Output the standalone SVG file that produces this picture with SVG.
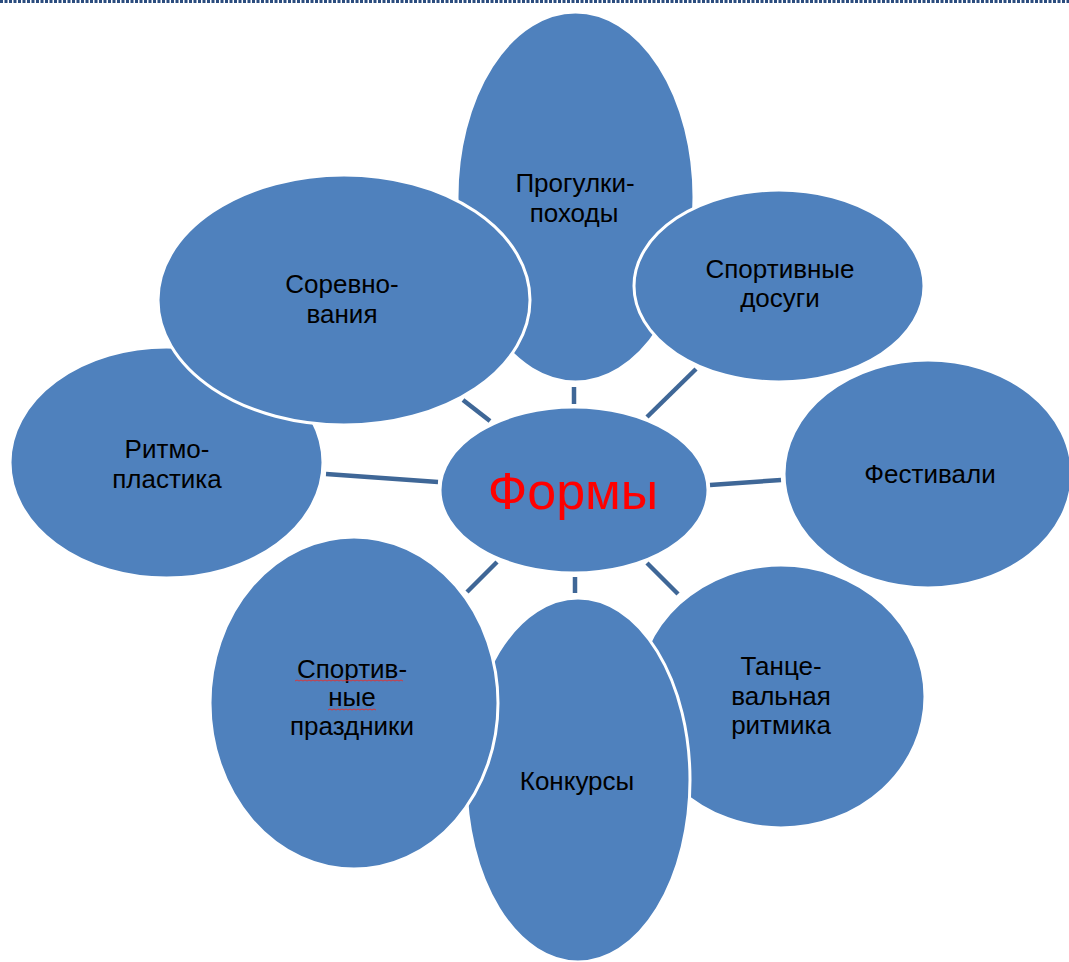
<svg xmlns="http://www.w3.org/2000/svg" width="1069" height="962" viewBox="0 0 1069 962">
<style>
.n{fill:#4F81BD;stroke:#FFFFFF;stroke-width:3}
.t{font-family:"Liberation Sans",Arial,sans-serif;font-size:26px;fill:#000000;text-anchor:middle}
.c{stroke:#3F6797;stroke-width:4.5;fill:none}
.sq{stroke:#D9383A;stroke-width:1;fill:none}
</style>
<rect width="1069" height="962" fill="#FFFFFF"/>
<line x1="0" y1="1.5" x2="1069" y2="1.5" stroke="#2B4C7E" stroke-width="3" stroke-dasharray="3 1.5"/>
<g id="connectors">
<line class="c" x1="574" y1="387" x2="574" y2="404"/>
<line class="c" x1="463" y1="400" x2="490" y2="421"/>
<line class="c" x1="696" y1="369" x2="647" y2="417"/>
<line class="c" x1="710" y1="485" x2="781" y2="480"/>
<line class="c" x1="326" y1="474" x2="438" y2="482"/>
<line class="c" x1="497" y1="562" x2="467" y2="592"/>
<line class="c" x1="575" y1="577" x2="575" y2="593"/>
<line class="c" x1="647" y1="563" x2="678" y2="594"/>
</g>
<g id="node-progulki">
<ellipse class="n" cx="575.5" cy="197" rx="118.5" ry="185"/>
<text class="t" x="575" y="192">Прогулки-</text>
<text class="t" x="574" y="222">походы</text>
</g>
<g id="node-ritmoplastika">
<ellipse class="n" cx="166.5" cy="462.5" rx="156.5" ry="115.5"/>
<text class="t" x="167" y="458">Ритмо-</text>
<text class="t" x="167" y="488">пластика</text>
</g>
<g id="node-sorevnovaniya">
<ellipse class="n" cx="344" cy="300" rx="186" ry="125"/>
<text class="t" x="342" y="293">Соревно-</text>
<text class="t" x="342" y="323">вания</text>
</g>
<g id="node-sportivnye-dosugi">
<ellipse class="n" cx="779" cy="286" rx="145" ry="96"/>
<text class="t" x="780" y="278">Спортивные</text>
<text class="t" x="780" y="307">досуги</text>
</g>
<g id="node-festivali">
<ellipse class="n" cx="928" cy="474" rx="144" ry="114"/>
<text class="t" x="930" y="483">Фестивали</text>
</g>
<g id="node-tancevalnaya">
<ellipse class="n" cx="781" cy="696.5" rx="144" ry="131.5"/>
<text class="t" x="781" y="675">Танце-</text>
<text class="t" x="781" y="705">вальная</text>
<text class="t" x="781" y="734">ритмика</text>
</g>
<g id="node-konkursy">
<ellipse class="n" cx="578" cy="780" rx="112" ry="182"/>
<text class="t" x="577" y="790">Конкурсы</text>
</g>
<g id="node-prazdniki">
<ellipse class="n" cx="354" cy="703" rx="144" ry="166"/>
<text class="t" x="352" y="678">Спортив-</text>
<text class="t" x="352" y="706">ные</text>
<text class="t" x="352" y="735">праздники</text>
<path class="sq" d="M295 681 l2 -1 l2 1 l2 -1 l2 1 l2 -1 l2 1 l2 -1 l2 1 l2 -1 l2 1 l2 -1 l2 1 l2 -1 l2 1 l2 -1 l2 1 l2 -1 l2 1 l2 -1 l2 1 l2 -1 l2 1 l2 -1 l2 1 l2 -1 l2 1 l2 -1 l2 1 l2 -1 l2 1 l2 -1 l2 1 l2 -1 l2 1 l2 -1 l2 1 l2 -1 l2 1 l2 -1 l2 1 l2 -1 l2 1 l2 -1 l2 1 l2 -1 l2 1 l2 -1 l2 1 l2 -1 l2 1 l2 -1 l2 1 l2 -1 l2 1"/>
<path class="sq" d="M328 710 l2 -1 l2 1 l2 -1 l2 1 l2 -1 l2 1 l2 -1 l2 1 l2 -1 l2 1 l2 -1 l2 1 l2 -1 l2 1 l2 -1 l2 1 l2 -1 l2 1 l2 -1 l2 1 l2 -1 l2 1 l2 -1 l2 1"/>
</g>
<g id="node-formy">
<ellipse class="n" cx="574" cy="490" rx="134" ry="83"/>
<text x="573" y="509" font-family="Liberation Sans, Arial, sans-serif" font-size="52" fill="#FF0000" text-anchor="middle">Формы</text>
</g>
</svg>
